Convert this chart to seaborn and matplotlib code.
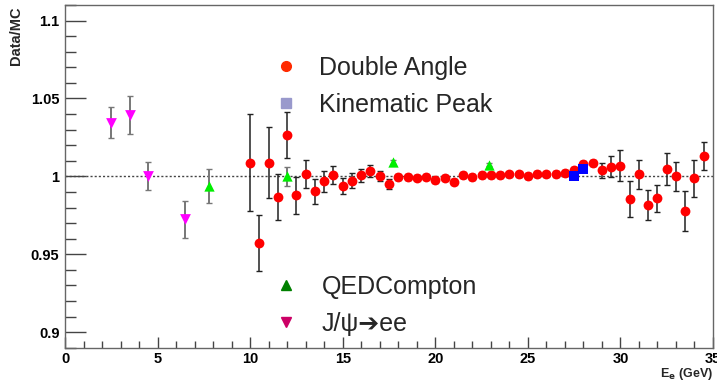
import numpy as np
import pandas as pd
import matplotlib
matplotlib.use("Agg")
import matplotlib.pyplot as plt
from matplotlib.lines import Line2D
from matplotlib.ticker import MultipleLocator
import seaborn as sns

sns.set_style("white")
plt.rcParams['font.family'] = ['Liberation Sans', 'DejaVu Sans']
plt.rcParams['mathtext.fontset'] = 'dejavusans'

# ---- data ----
da_x = [10.0, 10.5, 11.0, 11.5, 12.0, 12.5, 13.0, 13.5, 14.0, 14.5,
        15.0, 15.5, 16.0, 16.5, 17.0, 17.5, 18.0, 18.5, 19.0, 19.5,
        20.0, 20.5, 21.0, 21.5, 22.0, 22.5, 23.0, 23.5, 24.0, 24.5,
        25.0, 25.5, 26.0, 26.5, 27.0, 27.5, 28.0, 28.5, 29.0, 29.5,
        30.0, 30.5, 31.0, 31.5, 32.0, 32.5, 33.0, 33.5, 34.0, 34.5]
da_y = [1.0088, 0.9575, 1.0088, 0.9867, 1.0265, 0.9878, 1.0017, 0.9904, 0.9968, 1.0008,
        0.9938, 0.9972, 1.0006, 1.0034, 1.0002, 0.9951, 0.9994, 0.9996, 0.9992, 0.9998,
        0.9976, 0.9992, 0.9966, 1.0008, 0.9994, 1.0008, 1.0008, 1.0008, 1.0013, 1.0013,
        1.0002, 1.0017, 1.0013, 1.0017, 1.0021, 1.0040, 1.0081, 1.0085, 1.0040, 1.0062,
        1.0068, 0.9855, 1.0013, 0.9814, 0.9859, 1.0047, 1.0000, 0.9780, 0.9987, 1.0128]
da_err = [0.031, 0.018, 0.023, 0.015, 0.015, 0.012, 0.009, 0.008, 0.0067, 0.0058,
          0.005, 0.0048, 0.004, 0.0037, 0.003, 0.003, 0.002, 0.002, 0.0018, 0.0018,
          0.0018, 0.0018, 0.0018, 0.0018, 0.0018, 0.0018, 0.0018, 0.0018, 0.0018, 0.0018,
          0.0018, 0.0018, 0.0018, 0.0018, 0.0018, 0.002, 0.002, 0.002, 0.0048, 0.0066,
          0.010, 0.0118, 0.0093, 0.0097, 0.0087, 0.010, 0.0095, 0.0128, 0.012, 0.009]

kp_x = [27.5, 28.0]
kp_y = [1.0002, 1.0049]

qed_x = [7.8, 12.0, 17.7, 22.9]
qed_y = [0.9938, 1.0000, 1.0092, 1.0075]
qed_err = [0.011, 0.006, 0.001, 0.001]

jpsi_x = [2.5, 3.5, 4.5, 6.5]
jpsi_y = [1.0344, 1.0393, 1.0000, 0.9724]
jpsi_err = [0.010, 0.012, 0.009, 0.012]

legend_top = ["Double Angle", "Kinematic Peak"]
legend_bottom = ["QEDCompton", "J/\u03c8\u2794ee"]

# ---- figure ----
W, H = 717, 385
fig = plt.figure(figsize=(W / 100, H / 100), dpi=100)
ax = fig.add_axes([65 / W, 1 - 347.7 / H, (713 - 65) / W, (347.7 - 5) / H])

ax.axhline(1.0, color='#444444', lw=1.0, ls=(0, (1.5, 1.5)), zorder=1)

ax.errorbar(jpsi_x, jpsi_y, yerr=jpsi_err, fmt='none', ecolor='#777777',
            elinewidth=1.4, capsize=2.5, capthick=1, zorder=2)
ax.errorbar(qed_x, qed_y, yerr=qed_err, fmt='none', ecolor='#777777',
            elinewidth=1.4, capsize=2.5, capthick=1, zorder=2)
ax.errorbar(da_x, da_y, yerr=da_err, fmt='none', ecolor='#222222',
            elinewidth=1.1, capsize=2.5, capthick=1, zorder=2)

df_da = pd.DataFrame({'x': da_x, 'y': da_y})
df_kp = pd.DataFrame({'x': kp_x, 'y': kp_y})
df_qed = pd.DataFrame({'x': qed_x, 'y': qed_y})
df_jp = pd.DataFrame({'x': jpsi_x, 'y': jpsi_y})

sns.scatterplot(data=df_da, x='x', y='y', ax=ax, marker='o', color='#ff0000',
                s=50, linewidth=0, zorder=3, legend=False)
sns.scatterplot(data=df_kp, x='x', y='y', ax=ax, marker='s', color='#0000ff',
                s=60, linewidth=0, zorder=4, legend=False)
sns.scatterplot(data=df_qed, x='x', y='y', ax=ax, marker='^', color='#00ee00',
                s=55, linewidth=0, zorder=3, legend=False)
sns.scatterplot(data=df_jp, x='x', y='y', ax=ax, marker='v', color='#ff00ff',
                s=60, linewidth=0, zorder=3, legend=False)

ax.set_xlim(0, 35)
ax.set_ylim(0.89, 1.11)
ax.set_xlabel('')
ax.set_ylabel('')

ax.xaxis.set_major_locator(MultipleLocator(5))
ax.xaxis.set_minor_locator(MultipleLocator(1))
ax.yaxis.set_major_locator(MultipleLocator(0.05))
ax.yaxis.set_minor_locator(MultipleLocator(0.01))
ax.yaxis.set_major_formatter(plt.FuncFormatter(lambda v, p: f"{v:.2f}".rstrip('0').rstrip('.')))

ax.tick_params(axis='both', which='both', direction='in', colors='#444444',
               labelcolor='black', width=1, left=True, bottom=True,
               top=False, right=False)
ax.tick_params(axis='y', which='major', length=15, pad=4)
ax.tick_params(axis='y', which='minor', length=8)
ax.tick_params(axis='x', which='major', length=8, pad=3)
ax.tick_params(axis='x', which='minor', length=5)
for lab in ax.get_xticklabels() + ax.get_yticklabels():
    lab.set_fontweight('bold')
    lab.set_fontsize(10.5)

for s in ax.spines.values():
    s.set_color('#666666')
    s.set_linewidth(1)

fig.text(16 / W, 1 - 6 / H, 'Data/MC', rotation=90, ha='center', va='top',
         fontsize=10.5, fontweight='bold')
fig.text(713 / W, 1 - 374 / H, r'E$_\mathbf{e}$ (GeV)', ha='right', va='center',
         fontsize=9, fontweight='bold')

# legends
h_top = [Line2D([], [], ls='none', marker='o', color='#ff2a00', markersize=7),
         Line2D([], [], ls='none', marker='s', color='#9999cc', markersize=7)]
h_bot = [Line2D([], [], ls='none', marker='^', color='#008000', markersize=7),
         Line2D([], [], ls='none', marker='v', color='#cc0066', markersize=7)]

leg1 = ax.legend(h_top, legend_top, loc='upper left', bbox_to_anchor=(0.317, 0.851),
                 frameon=False, fontsize=18, handlelength=1.25, handletextpad=0.7,
                 borderpad=0, borderaxespad=0, labelspacing=0.52)
ax.add_artist(leg1)
leg2 = ax.legend(h_bot, legend_bottom, loc='upper left', bbox_to_anchor=(0.317, 0.213),
                 frameon=False, fontsize=18, handlelength=1.25, handletextpad=0.8,
                 borderpad=0, borderaxespad=0, labelspacing=0.52)

fig.savefig('out.png', dpi=100, facecolor='white')
